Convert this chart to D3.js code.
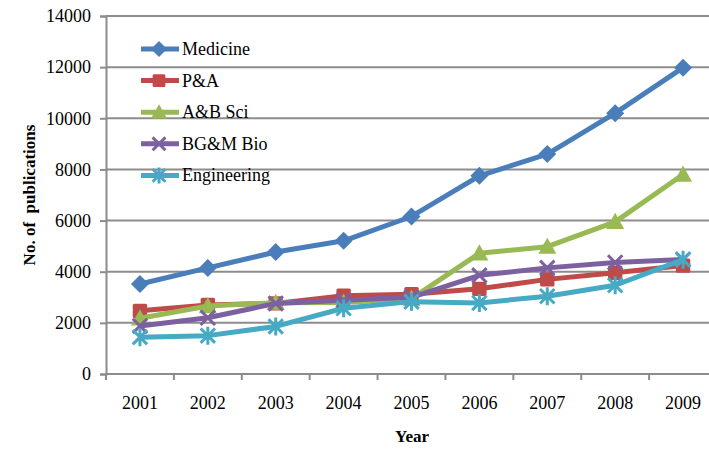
<!DOCTYPE html>
<html>
<head>
<meta charset="utf-8">
<script src="https://cdn.jsdelivr.net/npm/d3@7"></script>
<style>
  html, body { margin: 0; padding: 0; background: #fff; }
  svg { display: block; }
</style>
</head>
<body>
<svg id="chart" width="709" height="450"></svg>
<script>
// Publications per year by field, 2001–2009
const years = ["2001", "2002", "2003", "2004", "2005", "2006", "2007", "2008", "2009"];
const medicine    = [3520, 4150, 4770, 5210, 6160, 7750, 8600, 10200, 11980];
const pa          = [2470, 2700, 2760, 3060, 3120, 3330, 3700, 3960, 4240];
const abSci       = [2180, 2660, 2790, 2800, 2950, 4720, 4980, 5950, 7800];
const bgmBio      = [1880, 2200, 2760, 2880, 3000, 3860, 4150, 4360, 4480];
const engineering = [1440, 1500, 1860, 2570, 2830, 2780, 3040, 3470, 4470];
const yTicks = [0, 2000, 4000, 6000, 8000, 10000, 12000, 14000];

const seriesNames = ["Medicine", "P&A", "A&B Sci", "BG&M Bio", "Engineering"];
const seriesValues = [medicine, pa, abSci, bgmBio, engineering];
const colors = ["#4a7ebb", "#be4b48", "#98b954", "#7d60a0", "#46aac5"];
const symbols = ["diamond", "square", "triangle", "cross", "asterisk"];

const FONT = "'Liberation Serif', 'Times New Roman', serif";

const svg = d3.select("#chart");
const margin = { left: 106, top: 16, right: -8, bottom: 76 };
const W = 709, H = 450;

const x = d3.scaleBand().domain(years).range([margin.left, W - margin.right]);
const y = d3.scaleLinear().domain([0, 14000]).range([H - margin.bottom, margin.top]);

// horizontal gridlines
svg.append("g")
  .selectAll("line")
  .data(yTicks.filter(d => d > 0))
  .join("line")
  .attr("x1", margin.left).attr("x2", W)
  .attr("y1", d => y(d)).attr("y2", d => y(d))
  .attr("stroke", "#8c8c8c").attr("stroke-width", 2);

// y axis
const yAxis = svg.append("g")
  .attr("transform", `translate(${margin.left},0)`)
  .call(d3.axisLeft(y).tickValues(yTicks).tickSize(6).tickPadding(9).tickFormat(d3.format("d")));
yAxis.attr("font-family", FONT).attr("font-size", 18);
yAxis.select(".domain").attr("stroke", "#8c8c8c").attr("stroke-width", 2);
yAxis.selectAll(".tick line").attr("stroke", "#8c8c8c").attr("stroke-width", 2);
yAxis.selectAll("text").attr("fill", "#000");

// x axis with ticks on category boundaries
const xAxisY = y(0);
const xg = svg.append("g").attr("font-family", FONT);
xg.append("line")
  .attr("x1", margin.left).attr("x2", W)
  .attr("y1", xAxisY).attr("y2", xAxisY)
  .attr("stroke", "#8c8c8c").attr("stroke-width", 2);
xg.selectAll("line.tk")
  .data(years)
  .join("line")
  .attr("class", "tk")
  .attr("x1", d => x(d)).attr("x2", d => x(d))
  .attr("y1", xAxisY).attr("y2", xAxisY + 6)
  .attr("stroke", "#8c8c8c").attr("stroke-width", 2);
xg.selectAll("text")
  .data(years)
  .join("text")
  .attr("x", d => x(d) + x.bandwidth() / 2)
  .attr("y", xAxisY + 35)
  .attr("text-anchor", "middle")
  .attr("font-size", 18)
  .text(d => d);

// axis titles
svg.append("text")
  .attr("x", 412).attr("y", 442)
  .attr("text-anchor", "middle")
  .attr("font-family", FONT)
  .attr("font-size", 17).attr("font-weight", "bold")
  .text("Year");
svg.append("text")
  .attr("transform", `translate(35,195) rotate(-90)`)
  .attr("text-anchor", "middle")
  .attr("font-family", FONT)
  .attr("font-size", 17).attr("font-weight", "bold")
  .style("white-space", "pre")
  .text("No. of  publications");

// marker drawing
function drawMarker(g, type, color, s) {
  if (type === "diamond") {
    g.append("path").attr("d", `M0,${-s}L${s},0L0,${s}L${-s},0Z`).attr("fill", color);
  } else if (type === "square") {
    g.append("rect").attr("x", -s * 0.8).attr("y", -s * 0.8).attr("width", s * 1.6).attr("height", s * 1.6)
      .attr("rx", 1.5).attr("fill", color);
  } else if (type === "triangle") {
    g.append("path").attr("d", `M0,${-s}L${s},${s * 0.8}L${-s},${s * 0.8}Z`).attr("fill", color);
  } else if (type === "cross") {
    g.append("path").attr("d", `M${-s * 0.8},${-s * 0.8}L${s * 0.8},${s * 0.8}M${s * 0.8},${-s * 0.8}L${-s * 0.8},${s * 0.8}`)
      .attr("stroke", color).attr("stroke-width", 3);
  } else if (type === "asterisk") {
    g.append("path").attr("d", `M${-s * 0.8},${-s * 0.8}L${s * 0.8},${s * 0.8}M${s * 0.8},${-s * 0.8}L${-s * 0.8},${s * 0.8}M0,${-s}L0,${s}`)
      .attr("stroke", color).attr("stroke-width", 3);
  }
}

const line = d3.line()
  .x((d, i) => x(years[i]) + x.bandwidth() / 2)
  .y(d => y(d));

seriesValues.forEach((vals, si) => {
  const g = svg.append("g");
  g.append("path")
    .datum(vals)
    .attr("d", line)
    .attr("fill", "none")
    .attr("stroke", colors[si])
    .attr("stroke-width", 5)
    .attr("stroke-linejoin", "round");
  vals.forEach((v, i) => {
    const mg = g.append("g")
      .attr("transform", `translate(${x(years[i]) + x.bandwidth() / 2},${y(v)})`);
    drawMarker(mg, symbols[si], colors[si], 9);
  });
});

// legend
const legend = svg.append("g").attr("font-family", FONT);
seriesNames.forEach((name, i) => {
  const ly = 49 + i * 31.6;
  const lg = legend.append("g");
  lg.append("line")
    .attr("x1", 141).attr("x2", 179)
    .attr("y1", ly).attr("y2", ly)
    .attr("stroke", colors[i]).attr("stroke-width", 5);
  const mg = lg.append("g").attr("transform", `translate(159,${ly})`);
  drawMarker(mg, symbols[i], colors[i], 8);
  lg.append("text")
    .attr("x", 182).attr("y", ly + 6)
    .attr("font-size", 18)
    .text(name);
});
</script>
</body>
</html>
